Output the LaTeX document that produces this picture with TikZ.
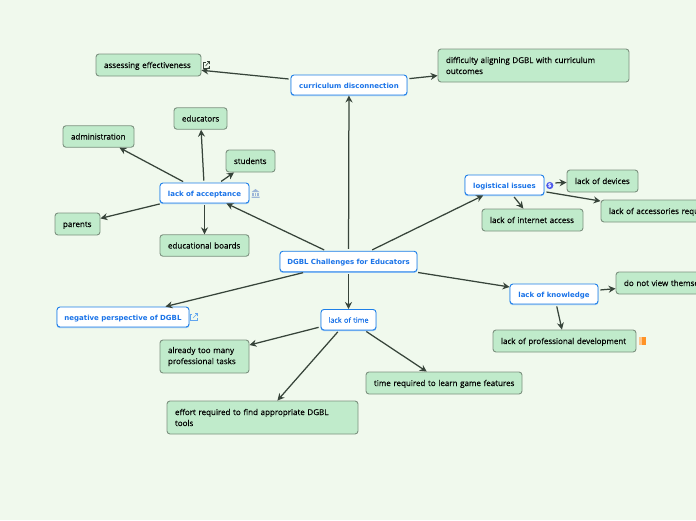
\documentclass[tikz,border=0pt]{standalone}
\usepackage{fontspec}
\setmainfont{Open Sans}
\newfontfamily\bluefont{DejaVu Sans}
\newfontfamily\greenfont[FakeBold=0.2]{Open Sans}
\newfontfamily\timefont[FakeBold=0.25]{Open Sans}
\usetikzlibrary{arrows.meta}
\definecolor{bgc}{HTML}{F0F9ED}
\definecolor{greenf}{HTML}{C0EBCB}
\definecolor{greend}{HTML}{7C917F}
\definecolor{blued}{HTML}{1E7FE8}
\definecolor{bluet}{HTML}{1A73E8}
\definecolor{conn}{HTML}{37443A}
\definecolor{iconb}{HTML}{9DB6D8}
\tikzset{
  box/.style={rounded corners=3pt,inner xsep=0pt,inner ysep=0pt,line width=0.9pt,anchor=center},
  greenbox/.style={box,draw=greend,fill=greenf,font=\greenfont\fontsize{8}{11}\selectfont,text=black,align=left},
  greenone/.style={greenbox,text height=6pt,text depth=0pt},
  bluebox/.style={box,draw=blued,fill=white,text height=6pt,text depth=0pt,preaction={draw=blued!50,line width=0.9pt,transform canvas={yshift=-0.7pt}},font=\bluefont\bfseries\fontsize{7}{9}\selectfont,text=bluet,align=center},
  link/.style={draw=conn,line width=1.25pt,-{Stealth[length=7pt,width=7pt]},shorten <=2pt},
}
\newcommand{\bx}[7]{\node[#1,minimum width=#5pt,minimum height=#6pt,text width=#7pt] (#2) at (#3,#4)}
\newcommand{\tl}[1]{\mbox{#1}}
\begin{document}
\begin{tikzpicture}[x=1pt,y=-1pt]
\useasboundingbox (0,0) rectangle (696,520);
\clip (0,0) rectangle (696,520);
\fill[bgc] (0,0) rectangle (696,520);
% central and blue nodes
\bx{bluebox}{root}{348.5}{261.5}{137}{20.5}{137} {DGBL Challenges for Educators};
\bx{bluebox}{time}{348.5}{319.7}{55}{20.5}{55} {\timefont\mdseries\fontsize{7.3}{9}\selectfont lack of time};
\bx{bluebox}{curr}{349}{85}{116}{20}{116} {curriculum disconnection};
\bx{bluebox}{acc}{204.5}{193}{89}{20}{89} {lack of acceptance};
\bx{bluebox}{log}{504.5}{185}{79}{20}{79} {logistical issues};
\bx{bluebox}{know}{554}{294}{88}{20}{88} {lack of knowledge};
\bx{bluebox}{neg}{123}{317}{132}{20}{132} {negative perspective of DGBL};
% green nodes
\bx{greenone}{treq}{444}{383}{156}{22}{140} {\tl{time required to learn game features}};
\bx{greenbox}{diff}{533.5}{65.5}{191}{33}{175} {\tl{difficulty aligning DGBL with curriculum}\\\tl{outcomes}};
\bx{greenone}{asse}{148.5}{65}{105}{22}{89} {\tl{assessing effectiveness}};
\bx{greenone}{educ}{200.5}{118.5}{53}{21.5}{37} {\tl{educators}};
\bx{greenone}{admi}{98.5}{136.5}{71}{21.5}{55} {\tl{administration}};
\bx{greenone}{stud}{250.5}{161}{49}{22}{33} {\tl{students}};
\bx{greenone}{pare}{77.5}{224}{45}{22}{29} {\tl{parents}};
\bx{greenone}{boar}{204.5}{245.5}{89}{21.5}{73} {\tl{educational boards}};
\bx{greenone}{devi}{602.5}{181}{71}{22}{55} {\tl{lack of devices}};
\bx{greenone}{inte}{532.5}{220}{101}{22}{85} {\tl{lack of internet access}};
\bx{greenone}{acce}{660}{211}{118}{22}{102} {\tl{lack of accessories required}};
\bx{greenone}{view}{680}{283}{128}{22}{112} {\tl{do not view themselves}};
\bx{greenone}{prof}{564.5}{341}{143}{22}{127} {\tl{lack of professional development}};
\bx{greenbox}{alre}{204.5}{356.5}{89}{33}{73} {\tl{already too many}\\\tl{professional tasks}};
\bx{greenbox}{effo}{262.5}{417.5}{191}{33}{175} {\tl{effort required to find appropriate DGBL}\\\tl{tools}};
% connectors
\draw[link] (root) -- (curr);
\draw[link] (root) -- (acc);
\draw[link] (root) -- (log);
\draw[link] (root) -- (know);
\draw[link] (root) -- (time);
\draw[link] (root) -- (neg);
\draw[link] (curr) -- (asse);
\draw[link] (curr) -- (diff);
\draw[link] (acc) -- (educ);
\draw[link] (acc) -- (admi);
\draw[link] (acc) -- (stud);
\draw[link] (acc) -- (pare);
\draw[link] (acc) -- (boar);
\draw[link] (log) -- (inte);
\draw[link,shorten <=11pt] (log) -- (devi);
\draw[link] (log) -- (acce);
\draw[link] (know) -- (view);
\draw[link] (know) -- (prof);
\draw[link] (time) -- (alre);
\draw[link] (time) -- (effo);
\draw[link] (time) -- (treq);
% icons
\begin{scope}[line width=0.6pt]
  \draw[conn] (206,62.5) -- (203,62.5) -- (203,68.5) -- (209,68.5) -- (209,65.5);
  \draw[conn] (205.5,66) -- (209.5,61.5) (207,61.5) -- (209.5,61.5) -- (209.5,64);
  \draw[blued!70] (191.5,314.5) -- (190.5,314.5) -- (190.5,320.5) -- (197,320.5) -- (197,317.5);
  \draw[blued!70] (193,318) -- (197.5,313.5) (195,313.5) -- (197.5,313.5) -- (197.5,316);
\end{scope}
\fill[iconb] (251.5,192) -- (255.5,189) -- (259.5,192) -- cycle (251.5,196.5) rectangle (259.5,197.8);
\foreach \px in {252.3,254.8,257.3} \fill[iconb] (\px,192.6) rectangle +(1.4,3.6);
\fill[iconb!50!blue] (549.8,185.5) circle (3.6pt);
\node[font=\bluefont\bfseries\fontsize{5.5}{6}\selectfont,text=white,inner sep=0pt] (dollar) at (549.8,185.5) {\$};
\fill[orange!45] (638.5,337) rectangle (642,344.5);
\fill[orange!85] (642,337) rectangle (646,344.5);
\end{tikzpicture}
\end{document}
